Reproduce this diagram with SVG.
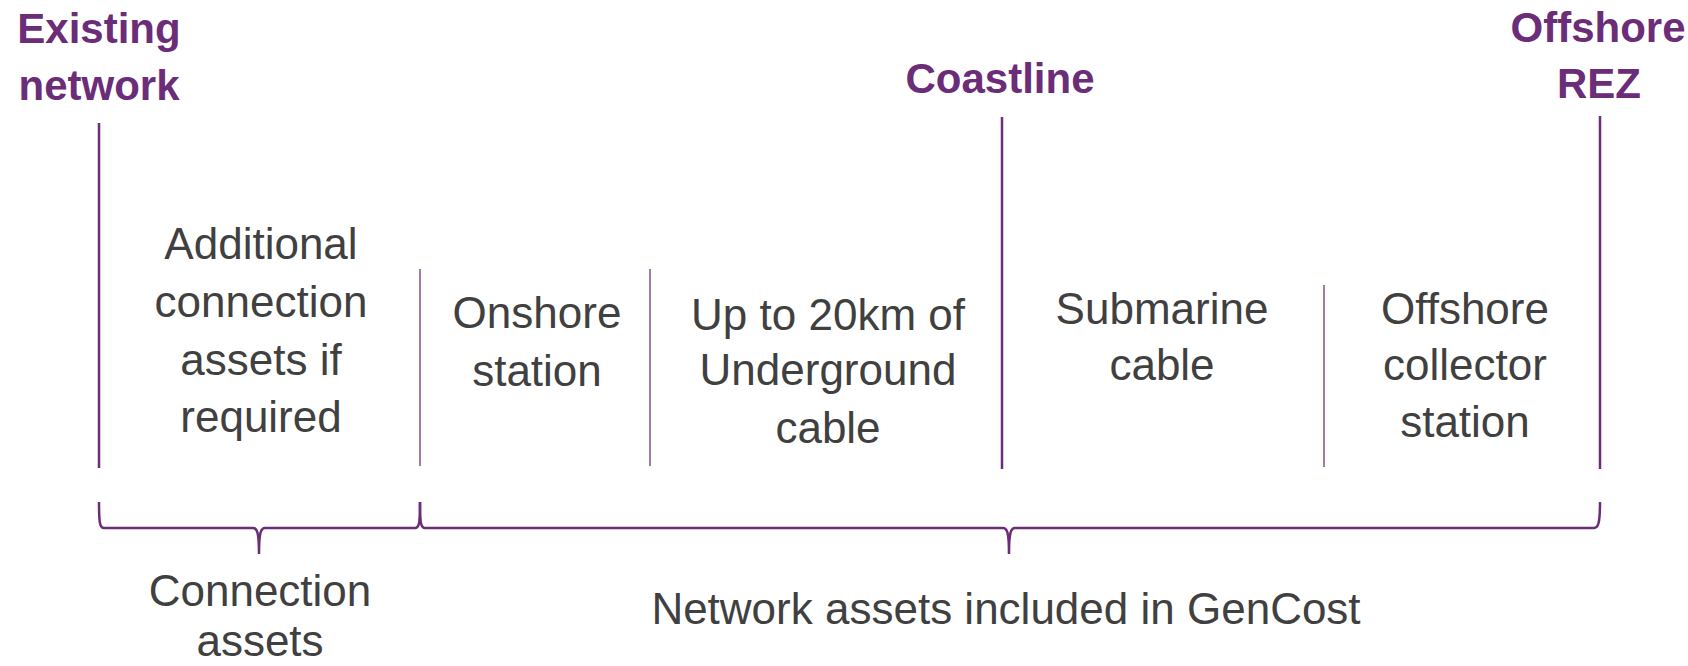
<svg xmlns="http://www.w3.org/2000/svg" width="1688" height="666" viewBox="0 0 1688 666">
<style>
.h{font-family:"Liberation Sans",Arial,sans-serif;font-weight:bold;font-size:42px;fill:#6B2C78;text-anchor:middle}
.t{font-family:"Liberation Sans",Arial,sans-serif;font-size:44px;fill:#404040;text-anchor:middle}
.main{stroke:#6B2C78;stroke-width:2.5;fill:none}
.sep{stroke:#6B2C78;stroke-width:1.5;fill:none;opacity:0.85}
.brace{stroke:#6B2C78;stroke-width:2.5;fill:none}
</style>
<rect width="1688" height="666" fill="#ffffff"/>
<g id="connectors">
<line class="main" x1="99" y1="123" x2="99" y2="468"/>
<line class="sep" x1="420" y1="269" x2="420" y2="466"/>
<line class="sep" x1="650" y1="269" x2="650" y2="466"/>
<line class="main" x1="1002" y1="117" x2="1002" y2="469"/>
<line class="sep" x1="1324" y1="285" x2="1324" y2="467"/>
<line class="main" x1="1600" y1="116" x2="1600" y2="469"/>
<path class="brace" d="M99,502 C99,524 100,528 104,528 L253,528 C257,528 259,532 259,554 C259,532 261,528 265,528 L415,528 C419,528 420,524 420,502"/>
<path class="brace" d="M420,502 C420,524 421,528 425,528 L1003,528 C1007,528 1009,532 1009,554 C1009,532 1011,528 1015,528 L1594,528 C1598,528 1600,524 1600,502"/>
</g>
<g id="existing-network"><text class="h" x="99" y="43">Existing</text><text class="h" x="99" y="100">network</text></g>
<g id="coastline"><text class="h" x="1000" y="93">Coastline</text></g>
<g id="offshore-rez"><text class="h" x="1598" y="42">Offshore</text><text class="h" x="1599" y="98">REZ</text></g>
<g id="additional"><text class="t" x="261" y="259">Additional</text><text class="t" x="261" y="317">connection</text><text class="t" x="261" y="375">assets if</text><text class="t" x="261" y="432">required</text></g>
<g id="onshore"><text class="t" x="537" y="328">Onshore</text><text class="t" x="537" y="386">station</text></g>
<g id="underground"><text class="t" x="828" y="330">Up to 20km of</text><text class="t" x="828" y="385">Underground</text><text class="t" x="828" y="443">cable</text></g>
<g id="submarine"><text class="t" x="1162" y="324">Submarine</text><text class="t" x="1162" y="380">cable</text></g>
<g id="offshore-collector"><text class="t" x="1465" y="324">Offshore</text><text class="t" x="1465" y="380">collector</text><text class="t" x="1465" y="437">station</text></g>
<g id="connection-assets"><text class="t" x="260" y="606">Connection</text><text class="t" x="260" y="656">assets</text></g>
<g id="network-assets"><text class="t" x="1006" y="624">Network assets included in GenCost</text></g>
</svg>
